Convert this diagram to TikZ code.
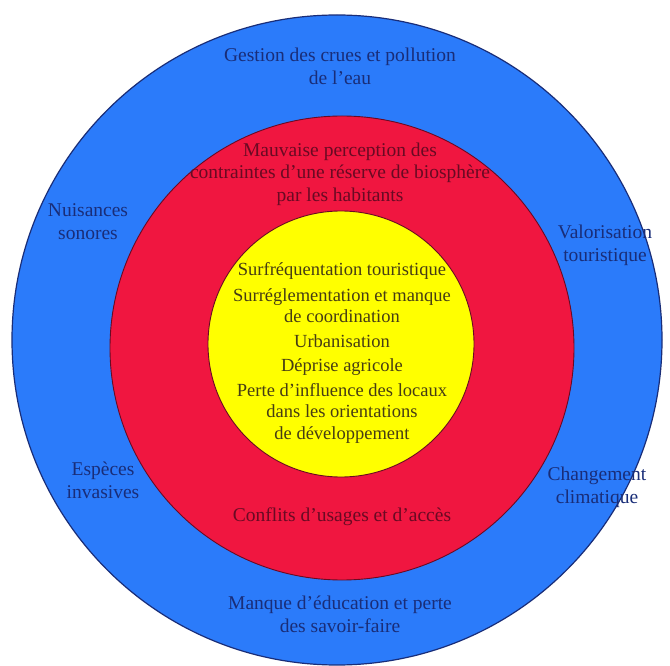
\documentclass[tikz,border=0pt]{standalone}
\usepackage{fontspec}
\setmainfont{Liberation Serif}
\definecolor{OuterBlue}{RGB}{43,123,250}
\definecolor{MidRed}{RGB}{240,22,64}
\definecolor{CoreYellow}{RGB}{255,255,0}
\definecolor{NavyText}{RGB}{25,45,120}
\definecolor{MaroonText}{RGB}{105,10,35}
\definecolor{OliveText}{RGB}{70,60,20}
\usetikzlibrary{positioning}
\tikzset{
  bluetext/.style={align=center, text=NavyText, font=\fontsize{19.5}{23}\selectfont},
  redtext/.style={align=center, text=MaroonText, font=\fontsize{19.5}{22.5}\selectfont},
  yellowtext/.style={align=center, text=OliveText, font=\fontsize{18.5}{21.5}\selectfont}
}

\begin{document}
\begin{tikzpicture}[x=1pt, y=1pt]
          \useasboundingbox (0,0) rectangle (670,665);
          \fill[white] (0,0) rectangle (670,665);
          \draw[fill=OuterBlue, draw=NavyText, line width=1.2pt] (337,325) circle (325);
          \draw[fill=MidRed, draw=MaroonText, line width=0.9pt] (342,317) circle (232);
          \draw[fill=CoreYellow, draw=MaroonText, line width=0.9pt] (341,321) circle (133);
          % outer ring
          \node[bluetext] (gestion) at (340,599) {Gestion des crues et pollution\\de l'eau};
          \node[bluetext] (nuisances) at (88,443) {Nuisances\\sonores};
          \node[bluetext] (valorisation) at (605,420) {Valorisation\\touristique};
          \node[bluetext] (especes) at (103,185) {Espèces\\invasives};
          \node[bluetext] (changement) at (597,178) {Changement\\climatique};
          \node[bluetext] (manque) at (340,51) {Manque d'éducation et perte\\des savoir-faire};
          % middle ring
          \node[redtext] (perception) at (340,491) {Mauvaise perception des\\contraintes d'une réserve de biosphère\\par les habitants};
          \node[redtext] (conflits) at (342,148) {Conflits d'usages et d'accès};
          % core
          \node[yellowtext] (core) at (342,312) {Surfréquentation touristique\\[4pt]
            Surréglementation et manque\\de coordination\\[3pt]
            Urbanisation\\[3pt]
            Déprise agricole\\[3pt]
            Perte d'influence des locaux\\dans les orientations\\de développement};
        \end{tikzpicture}
\end{document}
